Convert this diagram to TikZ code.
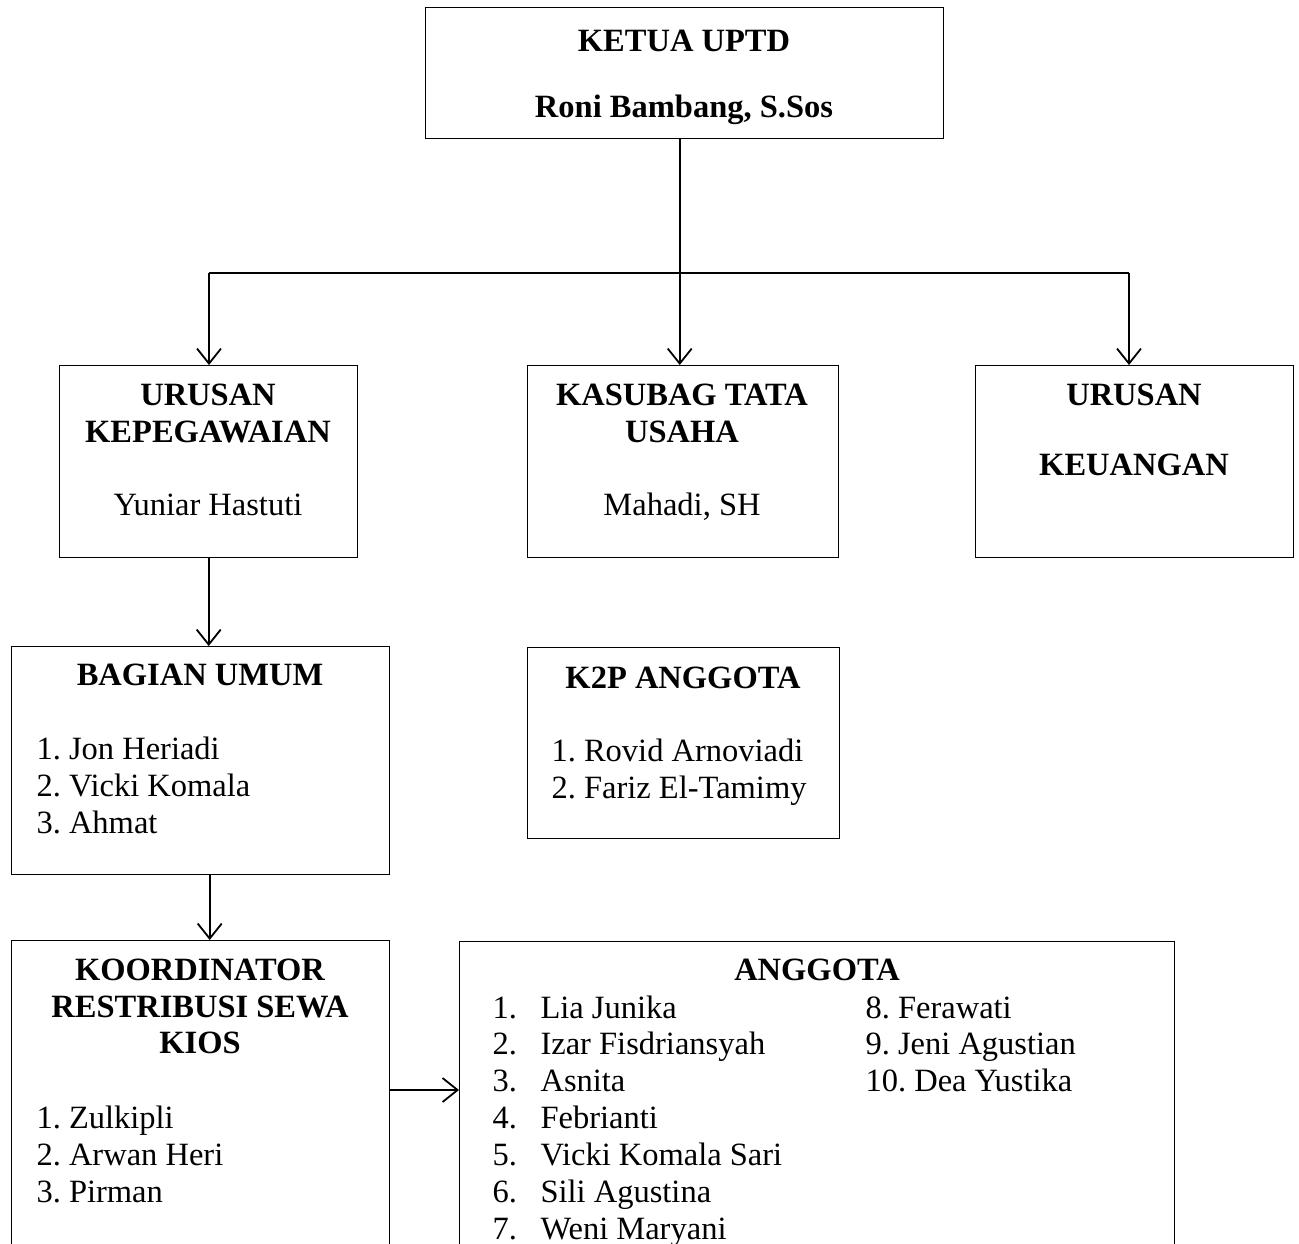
\documentclass[tikz,border=0pt]{standalone}
\usepackage{fontspec}
\setmainfont{Liberation Serif}
\usetikzlibrary{arrows.meta}
\newcommand\ukuran{\fontsize{32.5}{37}\selectfont\frenchspacing}

\begin{document}
\begin{tikzpicture}[x=1pt,y=-1pt,
  kotak/.style={draw,line width=1.4pt,rectangle,inner sep=0pt,anchor=north west},
  judul/.style={font=\ukuran\bfseries,anchor=base},
  teks/.style={font=\ukuran,anchor=base},
  daftar/.style={font=\ukuran,anchor=base west},
  garis/.style={line width=1.8pt},
  panah/.style={line width=1.8pt,-{Straight Barb[length=15pt,width=24pt,line width=1.8pt]}}]
\useasboundingbox (0,0) rectangle (1299,1243);
\clip (0,0) rectangle (1299,1243);

% kotak-kotak
\node[kotak,minimum width=518pt,minimum height=131pt] (ketua) at (425,7) {};
\node[kotak,minimum width=298pt,minimum height=192pt] (pegawai) at (59,365) {};
\node[kotak,minimum width=311pt,minimum height=192pt] (kasubag) at (527,365) {};
\node[kotak,minimum width=318pt,minimum height=192pt] (keuangan) at (975,365) {};
\node[kotak,minimum width=378pt,minimum height=228pt] (umum) at (11,646) {};
\node[kotak,minimum width=312pt,minimum height=191pt] (k2p) at (527,647) {};
\node[kotak,minimum width=378pt,minimum height=400pt] (koord) at (11,940) {};
\node[kotak,minimum width=715pt,minimum height=400pt] (anggota) at (459,941) {};

% teks
\node[judul] (t-ketua1) at (684,51) {KETUA UPTD};
\node[judul] (t-ketua2) at (684,117) {Roni Bambang, S.Sos};

\node[judul] (t-peg1) at (208,405) {URUSAN};
\node[judul] (t-peg2) at (208,442) {KEPEGAWAIAN};
\node[teks] (t-peg3) at (208,515) {Yuniar Hastuti};

\node[judul] (t-kas1) at (682,405) {KASUBAG TATA};
\node[judul] (t-kas2) at (682,442) {USAHA};
\node[teks] (t-kas3) at (682,515) {Mahadi, SH};

\node[judul] (t-keu1) at (1134,405) {URUSAN};
\node[judul] (t-keu2) at (1134,475) {KEUANGAN};

\node[judul] (t-umum) at (200,685) {BAGIAN UMUM};
\node[daftar] (umum1) at (33,759) {1. Jon Heriadi};
\node[daftar] (umum2) at (33,796) {2. Vicki Komala};
\node[daftar] (umum3) at (33,833) {3. Ahmat};

\node[judul] (t-k2p) at (683,688) {K2P ANGGOTA};
\node[daftar] (k2p1) at (548,761) {1. Rovid Arnoviadi};
\node[daftar] (k2p2) at (548,798) {2. Fariz El-Tamimy};

\node[judul] (t-koord1) at (200,980) {KOORDINATOR};
\node[judul] (t-koord2) at (200,1017) {RESTRIBUSI SEWA};
\node[judul] (t-koord3) at (200,1053) {KIOS};
\node[daftar] (koord1) at (33,1128) {1. Zulkipli};
\node[daftar] (koord2) at (33,1165) {2. Arwan Heri};
\node[daftar] (koord3) at (33,1202) {3. Pirman};

\node[judul] (t-anggota) at (817,980) {ANGGOTA};
\node[daftar] (no1) at (489,1018) {1.};  \node[daftar] (ang1) at (537,1018) {Lia Junika};
\node[daftar] (no2) at (489,1054) {2.};  \node[daftar] (ang2) at (537,1054) {Izar Fisdriansyah};
\node[daftar] (no3) at (489,1091) {3.};  \node[daftar] (ang3) at (537,1091) {Asnita};
\node[daftar] (no4) at (489,1128) {4.};  \node[daftar] (ang4) at (537,1128) {Febrianti};
\node[daftar] (no5) at (489,1165) {5.};  \node[daftar] (ang5) at (537,1165) {Vicki Komala Sari};
\node[daftar] (no6) at (489,1202) {6.};  \node[daftar] (ang6) at (537,1202) {Sili Agustina};
\node[daftar] (no7) at (489,1239) {7.};  \node[daftar] (ang7) at (537,1239) {Weni Maryani};
\node[daftar] (ang8) at (862,1018) {8. Ferawati};
\node[daftar] (ang9) at (862,1054) {9. Jeni Agustian};
\node[daftar] (ang10) at (862,1091) {10. Dea Yustika};

% garis penghubung
\coordinate (cabangkiri) at (209,273);
\coordinate (cabangkanan) at (1129,273);
\draw[garis] (cabangkiri) -- (cabangkanan);
\draw[panah] ([xshift=-5pt]ketua.south) -- ([xshift=-5pt]ketua.south |- kasubag.north);
\draw[panah] (cabangkiri) -- (cabangkiri |- pegawai.north);
\draw[panah] (cabangkanan) -- (cabangkanan |- keuangan.north);
\draw[panah] (pegawai.south) -- (pegawai.south |- umum.north);
\draw[panah] ([xshift=9pt]umum.south) -- ([xshift=9pt]umum.south |- koord.north);
\draw[panah] (koord.east |- 0,1090) -- (anggota.west |- 0,1090);
\end{tikzpicture}
\end{document}
